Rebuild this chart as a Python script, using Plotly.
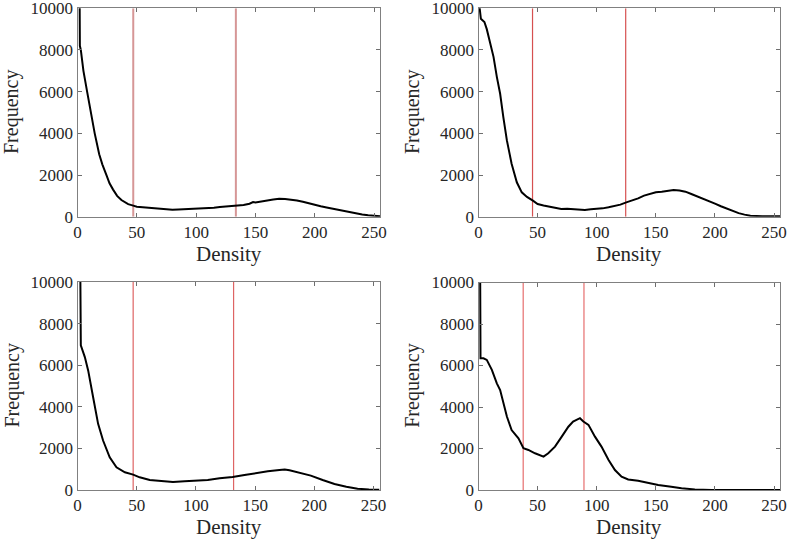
import plotly.graph_objects as go

# ---- data ----
tl_x = [0, 1.5, 2, 2.8, 5, 8.1, 11, 14.5, 18.3, 21, 24.4, 27, 30, 33.4, 37, 42.7, 47, 50, 55, 60, 65, 70, 75, 80,
        85, 90, 95, 100, 105, 110, 115, 120, 125, 130, 133, 137, 140, 145, 148, 150, 155, 160, 165, 170, 175, 180,
        185, 190, 195, 200, 205, 210, 215, 220, 225, 230, 235, 240, 245, 250, 255]
tl_y = [30000, 30000, 8200, 8000, 7000, 6000, 5000, 4000, 3000, 2500, 2000, 1600, 1300, 1000, 800, 600, 530, 480,
        450, 420, 390, 360, 350, 330, 350, 360, 370, 370, 380, 400, 430, 460, 480, 500, 540, 520, 560, 620, 700,
        680, 740, 780, 820, 860, 850, 820, 780, 720, 640, 560, 500, 440, 380, 320, 260, 200, 150, 110, 70, 40, 20]
tl_lines = [47, 133.5]

tr_x = [0, 1, 2, 3.4, 5, 7, 10, 12.7, 15.5, 18.3, 21, 24, 28, 32.4, 36.6, 41, 46, 50, 55, 60, 65, 70, 75, 80, 85,
        90, 95, 100, 105, 110, 115, 120, 125, 130, 135, 140, 145, 150, 155, 160, 165, 170, 175, 180, 185, 190,
        195, 200, 205, 210, 215, 220, 225, 230, 240, 250, 255]
tr_y = [30000, 10000, 9500, 9400, 9340, 9000, 8230, 7670, 6710, 5900, 4780, 3660, 2540, 1650, 1170, 950, 770, 610,
        540, 480, 430, 370, 380, 370, 350, 320, 360, 370, 400, 450, 500, 580, 690, 770, 880, 1010, 1080, 1170,
        1200, 1250, 1280, 1260, 1200, 1090, 980, 880, 760, 630, 500, 380, 280, 170, 100, 50, 20, 15, 20]
tr_lines = [45.7, 124.5]

bl_x = [0, 1, 2.5, 2.8, 6.2, 9, 13.2, 17.4, 21.6, 27.2, 32.9, 40, 47, 52.5, 61, 70.8, 80.6, 90.4, 100, 110, 120,
        131, 141, 151, 160.7, 170.5, 175, 179, 187, 197, 207, 217, 227, 236.5, 246, 255]
bl_y = [30000, 30000, 30000, 6950, 6390, 5750, 4460, 3180, 2380, 1570, 1090, 850, 740, 610, 480, 420, 390, 420,
        440, 480, 560, 620, 720, 820, 900, 960, 990, 950, 850, 690, 480, 290, 160, 60, 30, 15]
bl_lines = [47, 131.8]

br_x = [0, 1.4, 1.7, 4.2, 7, 11.3, 15.5, 18.3, 21, 24, 28, 33.8, 38, 42.2, 47.8, 55, 59, 64.7, 70.4, 76, 80, 85.8,
        88.7, 93, 98.5, 104, 110, 115.4, 121, 126.6, 135, 143.5, 152, 163, 171.7, 183, 197, 255]
br_y = [30000, 30000, 6350, 6350, 6270, 5790, 5140, 4820, 4180, 3540, 2890, 2490, 2010, 1930, 1770, 1610, 1770,
        2090, 2570, 3050, 3300, 3460, 3300, 3140, 2570, 2090, 1450, 960, 640, 510, 450, 350, 240, 160, 80, 30, 0, 0]
br_lines = [37.8, 89.2]

x_ticks = [0, 50, 100, 150, 200, 250]
y_ticks = [0, 2000, 4000, 6000, 8000, 10000]
x_title = "Density"
y_title = "Frequency"

# ---- layout geometry ----
W, H = 790, 541
FONT = "Liberation Serif, Times New Roman, serif"
panels = [
    # (xs, ys, lines, left, right, top, bottom, red color, red width)
    (tl_x, tl_y, tl_lines, 77.5, 380, 8.3, 216.7, "rgb(214,150,150)", 2),
    (tr_x, tr_y, tr_lines, 478.5, 780, 8.3, 216.7, "rgb(214,80,80)", 1.2),
    (bl_x, bl_y, bl_lines, 77.5, 379.5, 282, 490, "rgb(222,100,100)", 1.2),
    (br_x, br_y, br_lines, 478.5, 780, 282.5, 490, "rgb(230,110,110)", 1.2),
]

fig = go.Figure()
layout = dict(width=W, height=H, margin=dict(l=0, r=0, t=0, b=0, pad=0), showlegend=False,
              template="none", plot_bgcolor="white", paper_bgcolor="white", annotations=[], shapes=[])

for i, (xs, ys, lines, L, R, T, B, rc, rw) in enumerate(panels):
    n = "" if i == 0 else str(i + 1)
    xa, ya = "x" + n, "y" + n
    for v in lines:
        fig.add_trace(go.Scatter(x=[v, v], y=[0, 10000], mode="lines", xaxis=xa, yaxis=ya,
                                 line=dict(color=rc, width=rw), hoverinfo="skip"))
    fig.add_trace(go.Scatter(x=xs, y=ys, mode="lines", xaxis=xa, yaxis=ya,
                             line=dict(color="black", width=2)))
    axstyle = dict(showgrid=False, zeroline=False, showline=True, linecolor="rgb(128,128,128)", linewidth=1,
                   mirror="ticks", ticks="inside", ticklen=4, tickcolor="rgb(110,110,110)", tickwidth=1,
                   automargin=False, ticklabeloverflow="allow",
                   tickfont=dict(family=FONT, size=17, color="rgb(38,38,38)"))
    layout["xaxis" + n] = dict(axstyle, domain=[L / W, R / W], range=[0, 255], anchor=ya,
                               tickvals=x_ticks, ticktext=[str(t) for t in x_ticks])
    layout["yaxis" + n] = dict(axstyle, domain=[1 - B / H, 1 - T / H], range=[0, 10000], anchor=xa,
                               tickvals=y_ticks, ticktext=[str(t) for t in y_ticks])
    layout["annotations"].append(dict(text=x_title, xref="paper", yref="paper", x=(L + R) / 2 / W,
                                      y=1 - (B + 37) / H, xanchor="center", yanchor="middle", showarrow=False,
                                      font=dict(family=FONT, size=21, color="rgb(38,38,38)")))
    layout["annotations"].append(dict(text=y_title, xref="paper", yref="paper", x=(L - 66) / W,
                                      y=1 - (T + B) / 2 / H, xanchor="center", yanchor="middle", showarrow=False,
                                      textangle=-90, font=dict(family=FONT, size=20, color="rgb(38,38,38)")))

fig.update_layout(**layout)
fig.write_html("out.html", config={"displayModeBar": False},
               post_script="document.body.style.margin='0';document.body.style.overflow='hidden';")
